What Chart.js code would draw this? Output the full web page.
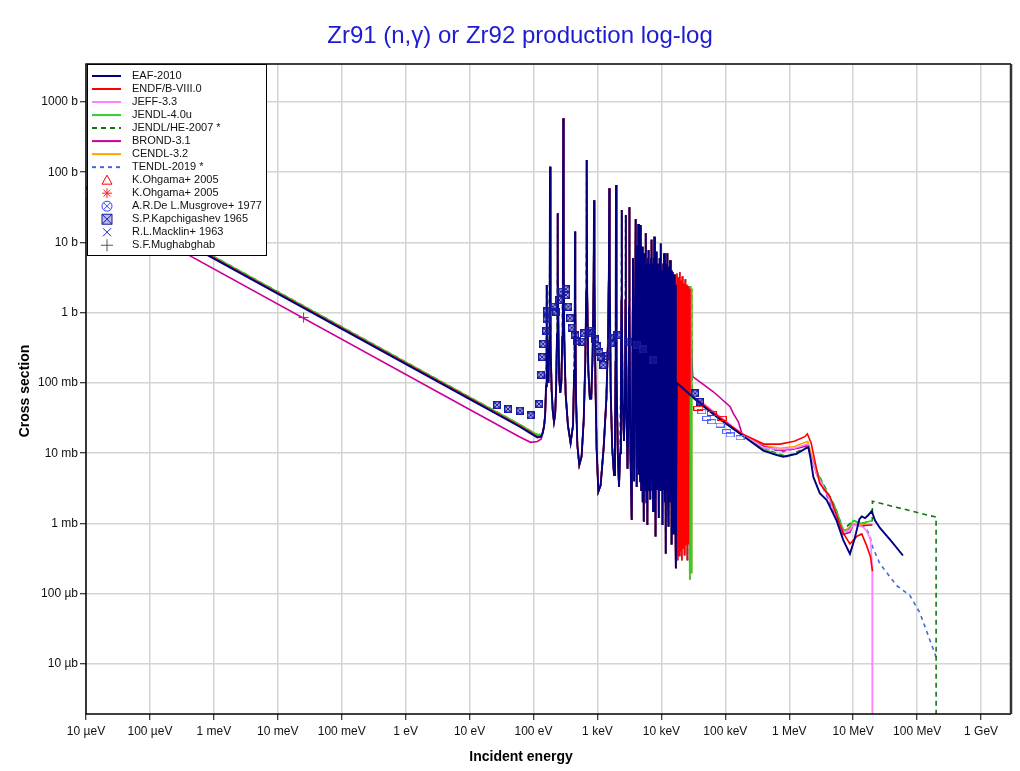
<!DOCTYPE html>
<html>
<head>
<meta charset="utf-8">
<script src="https://cdn.jsdelivr.net/npm/chart.js@4.4.1/dist/chart.umd.min.js"></script>
<style>
  html, body { margin: 0; padding: 0; background: #fff; }
  canvas { display: block; }
</style>
</head>
<body>
<canvas id="chart" width="1020" height="771"></canvas>
<script>
// axis ticks
const xTickValues = [1e-5, 1e-4, 1e-3, 1e-2, 1e-1, 1, 10, 100, 1e3, 1e4, 1e5, 1e6, 1e7, 1e8, 1e9];
const xTickLabels = ['10 µeV', '100 µeV', '1 meV', '10 meV', '100 meV', '1 eV', '10 eV', '100 eV',
  '1 keV', '10 keV', '100 keV', '1 MeV', '10 MeV', '100 MeV', '1 GeV'];
const yTickValues = [1e-5, 1e-4, 1e-3, 1e-2, 1e-1, 1, 10, 100, 1000];
const yTickLabels = ['10 µb', '100 µb', '1 mb', '10 mb', '100 mb', '1 b', '10 b', '100 b', '1000 b'];

// [energy eV, cross section b]
const eafLow = [[1e-5, 59], [10, 0.0588], [60, 0.024], [90, 0.0192], [115, 0.0167], [132, 0.0172]];
const endfLow = [[1e-5, 60.5], [10, 0.0605], [60, 0.0247], [90, 0.0197], [115, 0.0172], [132, 0.0176]];
const jeffLow = [[1e-5, 60], [10, 0.06], [60, 0.0245], [90, 0.0195], [115, 0.017], [132, 0.0174]];
const jendlLow = [[1e-5, 63], [10, 0.063], [60, 0.0258], [90, 0.0208], [115, 0.0183], [132, 0.0186]];
const brondLow = [[1e-5, 42], [10, 0.042], [60, 0.0172], [90, 0.0143], [115, 0.0147], [132, 0.016]];
const cendlLow = [[1e-5, 62], [10, 0.062], [60, 0.0253], [90, 0.0204], [115, 0.018], [132, 0.0183]];
const tendlLow = [[1e-5, 61.5], [10, 0.0615], [60, 0.0251], [90, 0.02], [115, 0.0176], [132, 0.018]];

// resolved resonances, common to the evaluations
const resonances = [
  [138, 0.019], [146, 0.024], [152, 0.035], [157, 0.09], [159.8, 0.6], [161, 2.48], [162.2, 0.6], [166, 0.12],
  [171, 0.1], [176, 0.4], [179.6, 6], [181, 120], [182.4, 6], [186, 0.35], [192, 0.08], [200, 0.04], [209, 0.028],
  [218, 0.036], [226, 0.09], [233, 0.5], [237.6, 5], [239, 26], [240.4, 5], [245, 0.5], [252, 0.12], [262, 0.072],
  [272, 0.1], [282, 0.45], [288, 5], [292, 586], [296, 5], [303, 0.4], [318, 0.07], [345, 0.025], [380, 0.014],
  [415, 0.025], [432, 0.15], [442, 1.2], [446, 14.3], [450, 1.2], [462, 0.06], [485, 0.013], [520, 0.0068],
  [565, 0.009], [610, 0.03], [645, 0.2], [668, 2], [679, 149], [690, 2], [720, 0.15], [760, 0.06], [800, 0.06],
  [840, 0.25], [872, 3], [884, 40], [896, 3], [930, 0.1], [970, 0.012], [1032, 0.00284], [1120, 0.0035],
  [1250, 0.012], [1380, 0.06], [1460, 0.4], [1510, 4], [1531, 59], [1552, 4], [1610, 0.08], [1700, 0.012],
  [1815, 0.0049], [1880, 0.015], [1920, 0.2], [1935, 2], [1950, 66], [1965, 2], [2000, 0.15], [2080, 0.01],
  [2173, 0.0033], [2260, 0.01], [2330, 0.15], [2375, 1.5], [2393, 29], [2411, 1.5], [2470, 0.06], [2600, 0.015],
  [2690, 0.06], [2745, 1.5], [2766, 24.6], [2787, 1.5], [2850, 0.04], [2950, 0.006], [3060, 0.04], [3120, 1.2],
  [3150, 31.7], [3180, 1.2], [3280, 0.01], [3434, 0.00112], [3600, 6], [3750, 0.004], [3963, 21.6], [4110, 0.0033],
  [4230, 9], [4290, 0.006], [4355, 18.3], [4450, 0.005], [4550, 6], [4650, 0.004], [4752, 17.7], [4830, 0.003],
  [4900, 5], [4970, 0.004], [5036, 8.7], [5100, 0.002], [5170, 4], [5300, 0.00106], [5450, 7], [5560, 0.003],
  [5690, 13.5], [5850, 0.002], [5950, 5], [6030, 0.00095], [6180, 6], [6260, 0.003], [6340, 7.8], [6500, 0.003],
  [6600, 5], [6700, 0.0022], [6880, 6], [6960, 0.004], [7060, 10.9], [7230, 0.003], [7300, 5], [7400, 0.0015],
  [7580, 6], [7660, 0.003], [7750, 12.1], [7920, 0.002], [8000, 4], [8100, 0.00065], [8270, 6], [8360, 0.003],
  [8450, 7.4], [8700, 0.003], [8850, 5], [9100, 0.0012], [9400, 6], [9600, 0.003], [9770, 9.7], [10100, 0.003],
  [10250, 4], [10400, 0.00095], [10700, 5], [10850, 0.003], [11000, 7.0], [11350, 0.002], [11500, 4], [11700, 0.00037],
  [12000, 5], [12200, 0.003], [12400, 7.0], [12700, 0.002], [12850, 4], [13000, 0.0009], [13300, 4.5], [13450, 0.002],
  [13650, 5.6], [14000, 0.002], [14150, 3.5], [14300, 0.0005], [14650, 4], [14800, 0.002], [15000, 3.8], [15300, 0.0015],
  [15450, 3], [15600, 0.0007], [15950, 3.5], [16100, 0.002], [16300, 3.2], [16600, 0.001], [16750, 2.5], [16900, 0.00023]
];
const forestHigh = [
  [17100, 0.0004], [17500, 3.6], [17900, 0.0003], [18400, 3.2], [18900, 0.00035], [19400, 3.8],
  [19900, 0.0004], [20400, 2.9], [20900, 0.0003], [21400, 3.3], [21900, 0.00045], [22500, 2.6],
  [23100, 0.00035], [23700, 3.0], [24300, 0.0005], [24900, 2.5], [25500, 0.0003], [26100, 2.4],
  [26700, 0.0005], [27200, 2.2]
];
const jendlTail = [[27800, 0.00016], [28500, 2.4], [29100, 0.0002], [29600, 2.2]];

// fast-neutron range
const eafHigh = [[17400, 0.101], [25000, 0.075], [40000, 0.051], [80000, 0.031], [181000, 0.0182],
  [393000, 0.0109], [637000, 0.0094], [807000, 0.0089], [1.3e6, 0.0098], [1.75e6, 0.0115],
  [1.99e6, 0.0123], [2.15e6, 0.0085], [2.38e6, 0.0046], [3.0e6, 0.0027], [3.85e6, 0.00216],
  [5.5e6, 0.0011], [7.0e6, 0.00058], [8.9e6, 0.00037], [10.5e6, 0.0006], [12.5e6, 0.00115],
  [13.6e6, 0.00126], [15.3e6, 0.00119], [17e6, 0.0013], [19.5e6, 0.0015], [22e6, 0.0011],
  [26e6, 0.00087], [40e6, 0.00055], [60e6, 0.00035]];
const endfHigh = [[28000, 0.068], [40000, 0.054], [100000, 0.028], [181000, 0.019], [400000, 0.0135],
  [718000, 0.0135], [1.2e6, 0.0148], [1.75e6, 0.0172], [1.92e6, 0.0188], [2.2e6, 0.014],
  [2.5e6, 0.008], [3.0e6, 0.0037], [4.34e6, 0.0024], [6.4e6, 0.0009], [7e6, 0.00073],
  [8.9e6, 0.00051], [11.5e6, 0.00066], [13.6e6, 0.00071], [16e6, 0.0005], [18.6e6, 0.00034],
  [20e6, 0.00021]];
const jeffHigh = [[28000, 0.07], [50000, 0.048], [100000, 0.029], [181000, 0.019], [400000, 0.012],
  [718000, 0.0113], [1.2e6, 0.0118], [1.95e6, 0.0135], [2.2e6, 0.009], [2.7e6, 0.005],
  [4.3e6, 0.0022], [7e6, 0.00075], [8.9e6, 0.0008], [10e6, 0.00095], [13.6e6, 0.00092],
  [16e6, 0.0008], [18.6e6, 0.0006], [19.8e6, 0.00025], [20.01e6, 1e-9]];
const jendlHigh = [[30000, 0.066], [40000, 0.053], [100000, 0.027], [181000, 0.0185], [400000, 0.0115],
  [600000, 0.0098], [912000, 0.0089], [1.3e6, 0.0099], [1.95e6, 0.0122], [2.2e6, 0.009],
  [2.7e6, 0.0055], [3.5e6, 0.0033], [5.1e6, 0.0018], [7e6, 0.00081], [8.5e6, 0.0008],
  [10e6, 0.0011], [13.6e6, 0.001], [20e6, 0.0011]];
const jendlHeHigh = [[30000, 0.066], [40000, 0.053], [100000, 0.027], [181000, 0.0185], [400000, 0.0115],
  [912000, 0.009], [1.95e6, 0.0122], [2.2e6, 0.009], [2.7e6, 0.0055], [5.1e6, 0.0018],
  [7e6, 0.00081], [10e6, 0.0011], [13.6e6, 0.001], [19.9e6, 0.0011], [20e6, 0.00207],
  [198e6, 0.00123], [198.5e6, 1e-9]];
const brondHigh = [[30900, 0.123], [65000, 0.075], [119000, 0.046], [133000, 0.037], [160000, 0.028],
  [181000, 0.0192], [220000, 0.0165], [400000, 0.0125], [718000, 0.011], [1.2e6, 0.0115],
  [1.95e6, 0.0128], [2.2e6, 0.0088], [2.7e6, 0.005], [4.3e6, 0.0022], [7e6, 0.0007],
  [8.9e6, 0.00075], [10e6, 0.00095], [13.6e6, 0.00093], [20e6, 0.00095]];
const cendlHigh = [[30000, 0.066], [40000, 0.053], [100000, 0.027], [181000, 0.0185], [400000, 0.0128],
  [718000, 0.0118], [1.2e6, 0.0125], [1.95e6, 0.0148], [2.2e6, 0.01], [2.8e6, 0.0048],
  [4.5e6, 0.0021], [7e6, 0.00075], [10e6, 0.001], [13.6e6, 0.00098], [20e6, 0.00098]];
const tendlHigh = [[28000, 0.066], [40000, 0.052], [100000, 0.027], [181000, 0.0182], [400000, 0.012],
  [800000, 0.0105], [1.95e6, 0.013], [2.2e6, 0.009], [2.7e6, 0.005], [4.2e6, 0.0021],
  [7e6, 0.0007], [10e6, 0.00095], [15e6, 0.0009], [18e6, 0.0007], [20e6, 0.00047],
  [26e6, 0.00027], [48e6, 0.00013], [77e6, 0.000095], [111e6, 0.000053], [158e6, 0.000022],
  [190e6, 0.000014], [200e6, 0.000012]];

// measurements
const ohgamaTri = [[37800, 0.0436], [61400, 0.037], [87900, 0.0314]];
const ohgamaStar = [];
const musgrove = [[42800, 0.039], [51200, 0.0314], [61400, 0.0281], [82800, 0.0252], [105000, 0.0203],
  [119000, 0.0182], [170000, 0.0166]];
const kapchigashev = [[26.9, 0.0486], [39.9, 0.0426], [61.5, 0.0404], [90.4, 0.0347], [122, 0.0502],
  [130, 0.131], [136, 0.234], [141, 0.359], [157, 0.555], [161, 0.807], [164, 1.07], [200, 1.22],
  [225, 1.04], [251, 1.52], [266, 2.0], [322, 2.16], [322, 1.79], [350, 1.22], [372, 0.834],
  [396, 0.612], [446, 0.482], [484, 0.40], [568, 0.387], [617, 0.509], [765, 0.555], [813, 0.509],
  [916, 0.419], [973, 0.336], [1069, 0.279], [1125, 0.237], [1236, 0.18], [1361, 0.242],
  [1611, 0.367], [1770, 0.433], [2046, 0.482], [3040, 0.387], [4110, 0.35], [5210, 0.30],
  [7480, 0.21], [33600, 0.071], [40000, 0.054]];
const macklin = [];
const mughabghab = [[0.0253, 0.855]];

const pts = arr => arr.map(([x, y]) => ({ x, y }));
const upTo = (arr, e) => arr.filter(p => p[0] <= e);

// small marker images
function rectMark(color, w, h) {
  const c = document.createElement('canvas');
  c.width = w; c.height = h;
  const g = c.getContext('2d');
  g.strokeStyle = color; g.lineWidth = 1;
  g.strokeRect(0.5, 0.5, w - 1, h - 1);
  return c;
}
function boxXMark(color) {
  const c = document.createElement('canvas');
  c.width = 8; c.height = 8;
  const g = c.getContext('2d');
  g.strokeStyle = color; g.lineWidth = 1.6;
  g.strokeRect(0.8, 0.8, 6.4, 6.4);
  g.lineWidth = 1.1;
  g.beginPath();
  g.moveTo(1, 1); g.lineTo(7, 7); g.moveTo(7, 1); g.lineTo(1, 7);
  g.stroke();
  return c;
}

function line(label, data, color, dash, width) {
  return {
    label, data: pts(data), showLine: true, borderColor: color, backgroundColor: color,
    borderWidth: width || 1.6, borderDash: dash || [], pointRadius: 0, pointHoverRadius: 0,
    fill: false, tension: 0, legendLine: true
  };
}
function marks(label, data, style, color, mark, radius) {
  return {
    label, data: pts(data), showLine: false, pointStyle: style, pointRadius: radius || 4,
    borderColor: color, backgroundColor: color, borderWidth: 1, order: -1,
    legendMark: mark, markColor: color
  };
}

const datasets = [
  line('EAF-2010', [...eafLow, ...upTo(resonances, 16900), ...eafHigh], '#00007f', null, 1.9),
  line('ENDF/B-VIII.0', [...endfLow, ...resonances, ...forestHigh, ...endfHigh], '#ff0000'),
  line('JEFF-3.3', [...jeffLow, ...resonances, ...forestHigh, ...jeffHigh], '#ff80ff'),
  line('JENDL-4.0u', [...jendlLow, ...resonances, ...forestHigh, ...jendlTail, ...jendlHigh], '#33cc33'),
  line('JENDL/HE-2007 *', [...jendlLow, ...resonances, ...forestHigh, ...jendlTail, ...jendlHeHigh], '#117711', [5, 4]),
  line('BROND-3.1', [...brondLow, ...resonances, ...forestHigh, ...brondHigh], '#cc0099'),
  line('CENDL-3.2', [...cendlLow, ...resonances, ...forestHigh, ...jendlTail, ...cendlHigh], '#ffa500'),
  line('TENDL-2019 *', [...tendlLow, ...resonances, ...forestHigh, ...tendlHigh], '#4169e1', [4, 4]),
  marks('K.Ohgama+ 2005', ohgamaTri, rectMark('#ff0000', 10, 5), '#ff0000', 'triangle'),
  marks('K.Ohgama+ 2005', ohgamaStar, 'star', '#ff2020', 'star'),
  marks('A.R.De L.Musgrove+ 1977', musgrove, rectMark('#5566ff', 9, 5), '#3344ff', 'circlex'),
  marks('S.P.Kapchigashev 1965', kapchigashev, boxXMark('#1a1aa0'), '#1a1aa0', 'boxx'),
  marks('R.L.Macklin+ 1963', macklin, 'crossRot', '#1a1acc', 'x'),
  marks('S.F.Mughabghab', mughabghab, 'cross', '#555555', 'plus', 5)
];

function drawMark(ctx, kind, x, y, color) {
  ctx.strokeStyle = color;
  ctx.lineWidth = 1;
  ctx.setLineDash([]);
  ctx.beginPath();
  if (kind === 'triangle') {
    ctx.moveTo(x, y - 5); ctx.lineTo(x + 5, y + 4); ctx.lineTo(x - 5, y + 4); ctx.closePath();
  } else if (kind === 'star') {
    for (let k = 0; k < 4; k++) {
      const a = k * Math.PI / 4;
      ctx.moveTo(x - 5 * Math.cos(a), y - 5 * Math.sin(a));
      ctx.lineTo(x + 5 * Math.cos(a), y + 5 * Math.sin(a));
    }
  } else if (kind === 'circlex') {
    ctx.arc(x, y, 5, 0, Math.PI * 2);
    ctx.moveTo(x - 3.5, y - 3.5); ctx.lineTo(x + 3.5, y + 3.5);
    ctx.moveTo(x + 3.5, y - 3.5); ctx.lineTo(x - 3.5, y + 3.5);
  } else if (kind === 'boxx') {
    ctx.fillStyle = '#b8bcf0';
    ctx.fillRect(x - 5, y - 5, 10, 10);
    ctx.rect(x - 5, y - 5, 10, 10);
    ctx.moveTo(x - 5, y - 5); ctx.lineTo(x + 5, y + 5);
    ctx.moveTo(x + 5, y - 5); ctx.lineTo(x - 5, y + 5);
  } else if (kind === 'x') {
    ctx.moveTo(x - 4, y - 4); ctx.lineTo(x + 4, y + 4);
    ctx.moveTo(x + 4, y - 4); ctx.lineTo(x - 4, y + 4);
  } else if (kind === 'plus') {
    ctx.moveTo(x - 6, y); ctx.lineTo(x + 6, y);
    ctx.moveTo(x, y - 6); ctx.lineTo(x, y + 6);
  }
  ctx.stroke();
}

const decor = {
  id: 'decor',
  afterDraw(chart) {
    const ctx = chart.ctx, a = chart.chartArea;
    ctx.save();

    // legend box
    const lx = a.left + 1, ly = a.top, lw = 180, lh = 192;
    ctx.fillStyle = '#fff';
    ctx.fillRect(lx, ly, lw, lh);
    ctx.strokeStyle = '#000'; ctx.lineWidth = 1;
    ctx.strokeRect(lx + 0.5, ly + 0.5, lw - 1, lh - 1);
    ctx.font = '11px "Liberation Sans", Arial, sans-serif';
    ctx.textBaseline = 'middle';
    ctx.textAlign = 'left';
    chart.data.datasets.forEach((ds, i) => {
      const y = ly + 12 + i * 13.02;
      if (ds.legendLine) {
        ctx.strokeStyle = ds.borderColor; ctx.lineWidth = 2;
        ctx.setLineDash(ds.borderDash);
        ctx.beginPath(); ctx.moveTo(lx + 5, y); ctx.lineTo(lx + 34, y); ctx.stroke();
        ctx.setLineDash([]);
      } else {
        drawMark(ctx, ds.legendMark, lx + 20, y, ds.markColor);
      }
      ctx.fillStyle = '#111';
      ctx.fillText(ds.label, lx + 45, y);
    });

    // frame
    ctx.setLineDash([]);
    ctx.strokeStyle = '#000'; ctx.lineWidth = 1.5;
    ctx.beginPath();
    ctx.moveTo(a.right, a.top); ctx.lineTo(a.left, a.top); ctx.lineTo(a.left, a.bottom); ctx.lineTo(a.right, a.bottom);
    ctx.stroke();
    ctx.strokeStyle = '#333'; ctx.lineWidth = 2.5;
    ctx.beginPath(); ctx.moveTo(a.right, a.top); ctx.lineTo(a.right, a.bottom); ctx.stroke();

    // titles
    ctx.fillStyle = '#1c1cd0';
    ctx.font = '24px "Liberation Sans", Arial, sans-serif';
    ctx.textAlign = 'center';
    ctx.fillText('Zr91 (n,γ) or Zr92 production log-log', 520, 36);
    ctx.fillStyle = '#000';
    ctx.font = 'bold 14px "Liberation Sans", Arial, sans-serif';
    ctx.fillText('Incident energy', 521, 757);
    ctx.translate(25, 391);
    ctx.rotate(-Math.PI / 2);
    ctx.fillText('Cross section', 0, 0);
    ctx.restore();
  }
};

new Chart(document.getElementById('chart'), {
  type: 'scatter',
  data: { datasets },
  options: {
    responsive: false,
    animation: false,
    events: [],
    layout: { padding: { top: 64, right: 9, left: 0, bottom: 0 } },
    plugins: { legend: { display: false }, title: { display: false }, tooltip: { enabled: false } },
    scales: {
      x: {
        type: 'logarithmic', min: 1e-5, max: 2.94e9,
        afterBuildTicks: s => { s.ticks = xTickValues.map(v => ({ value: v })); },
        afterFit: s => { s.height = 57; },
        ticks: {
          autoSkip: false, maxRotation: 0, padding: 4, color: '#111',
          font: { family: '"Liberation Sans", Arial, sans-serif', size: 12 },
          callback: (v, i) => xTickLabels[i]
        },
        grid: { color: '#d4d4d4', lineWidth: 1.5, tickColor: '#000', tickWidth: 1, tickLength: 6 },
        border: { display: false }
      },
      y: {
        type: 'logarithmic', min: 1.94e-6, max: 3475,
        afterBuildTicks: s => { s.ticks = yTickValues.map(v => ({ value: v })); },
        afterFit: s => { s.width = 86; },
        ticks: {
          autoSkip: false, padding: 2, color: '#111',
          font: { family: '"Liberation Sans", Arial, sans-serif', size: 12 },
          callback: (v, i) => yTickLabels[i]
        },
        grid: { color: '#d4d4d4', lineWidth: 1.5, tickColor: '#000', tickWidth: 1, tickLength: 6 },
        border: { display: false }
      }
    }
  },
  plugins: [decor]
});
</script>
</body>
</html>
